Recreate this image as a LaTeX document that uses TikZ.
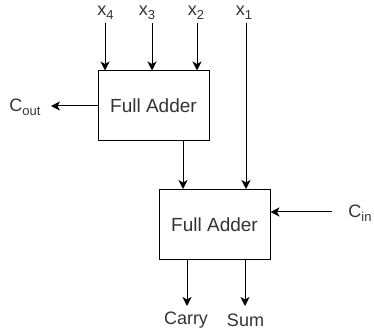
\documentclass[tikz,border=0pt]{standalone}
\usepackage{fontspec}
\setmainfont{Liberation Sans}
\usetikzlibrary{arrows.meta, math, positioning}
\definecolor{mytext}{RGB}{51,51,51}
\newcommand{\sub}[1]{\raisebox{-0.45ex}{\fontsize{13}{14}\selectfont #1}}

\tikzset{
  adder/.style={draw, line width=1pt, minimum width=111pt, minimum height=70pt, text=mytext, font=\fontsize{19}{21}\selectfont},
  lbl/.style={text=mytext, inner sep=0pt, font=\fontsize{18}{20}\selectfont},
  wire/.style={line width=1pt, -{Stealth[length=9pt,width=9pt,inset=2.5pt]}}
}

\begin{document}
\begin{tikzpicture}[x=1pt,y=-1pt]
\tikzmath{
\T=23;
}
\useasboundingbox (0,0) rectangle (374,336);

\node[adder] (fa1) at (153.5,106) {Full Adder};
\node[adder] (fa2) at (214.5,224.5) {Full Adder};

% inputs
\node[lbl] (lx4) at (105.5,13) {x\sub{4}};
\node[lbl] (lx3) at (147,13) {x\sub{3}};
\node[lbl] (lx2) at (196,13) {x\sub{2}};
\node[lbl] (lx1) at (244,13) {x\sub{1}};

\coordinate (i4) at (105,\T);
\coordinate (i3) at (152,\T);
\coordinate (i2) at (197,\T);
\coordinate (i1) at (246,\T);

\draw[wire] (i4) -- (i4 |- fa1.north);
\draw[wire] (i3) -- (i3 |- fa1.north);
\draw[wire] (i2) -- (i2 |- fa1.north);
\draw[wire] (i1) -- (i1 |- fa2.north);

% carries
\node[lbl] (cout) at (25,107) {C\sub{out}};
\coordinate (co) at (51,106);
\draw[wire] (fa1.west) -- (co);

\coordinate (s1) at (183,141);
\draw[wire] (s1) -- (s1 |- fa2.north);

\node[lbl] (cin) at (360,213) {C\sub{in}};
\coordinate (ci) at (332,212);
\draw[wire] (ci) -- (ci -| fa2.east);

% outputs
\node[lbl] (carry) at (186,320) {Carry};
\node[lbl] (sum) at (245.5,320) {Sum};
\coordinate (o1) at (187,260);
\coordinate (o2) at (245,260);
\coordinate (e1) at (187,306);
\coordinate (e2) at (245,306);
\draw[wire] (o1) -- (e1);
\draw[wire] (o2) -- (e2);

\end{tikzpicture}
\end{document}
